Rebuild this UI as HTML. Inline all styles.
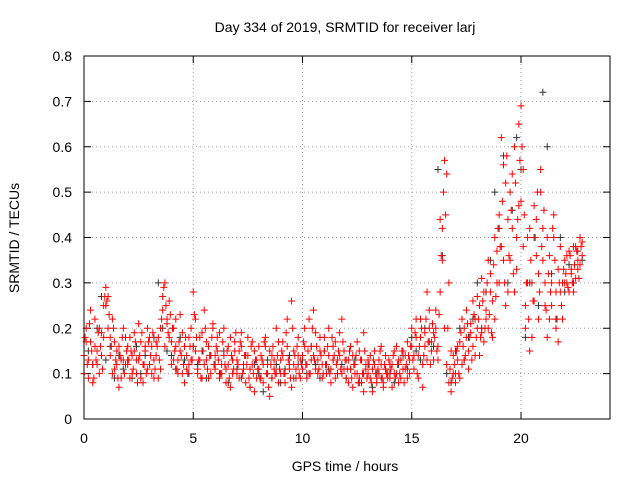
<!DOCTYPE html>
<html><head><meta charset="utf-8"><style>
body{margin:0;background:#fff}
svg{display:block;font-family:"Liberation Sans",sans-serif}
</style></head><body>
<svg id="chart" width="640" height="480" viewBox="0 0 640 480">
<text x="345" y="32" font-size="14" text-anchor="middle">Day 334 of 2019, SRMTID for receiver larj</text>
<text transform="translate(19,238) rotate(-90)" font-size="14" text-anchor="middle">SRMTID / TECUs</text>
<text x="345" y="471" font-size="14" text-anchor="middle">GPS time / hours</text>
<g id="grid"></g><g id="ticks"></g><g id="marks"></g>
<rect x="84" y="56" width="526" height="363" fill="none" stroke="#000" stroke-width="1"/>
</svg>
<script>
const xTicks=[0,5,10,15,20];
const yTicks=[0,0.1,0.2,0.3,0.4,0.5,0.6,0.7,0.8];
const yTickLabels=["0","0.1","0.2","0.3","0.4","0.5","0.6","0.7","0.8"];
const redStep=0.1, blackStep=0.2;
const redA=[.14,.2,.09,.17,.12,.22,.15,.1,.19,.25,.29,.27,.18,.22,.11,.15,.07,.13,.2,.12,.16,.09,.14,.19,.1,.13,.17,.08,.15,.2,.12,.16,.09,.14,.18,.11,.24,.3,.21,.26,.17,.13,.22,.1,.15,.19,.08,.14,.12,.2,.28,.15,.11,.18,.09,.24,.13,.16,.1,.21,.14,.18,.09,.12,.2,.11,.16,.07,.13,.17,.1,.15,.19,.12,.08,.14,.11,.17,.06,.13,.16,.09,.12,.18,.1,.05,.14,.11,.2,.08,.13,.17,.1,.22,.12,.07,.15,.11,.18,.09,.14,.2,.12,.1,.16,.24,.11,.13,.18,.09,.15,.12,.2,.08,.13,.17,.1,.14,.22,.11,.09,.13,.16,.07,.12,.1,.15,.08,.19,.11,.1,.14,.06,.12,.09,.13,.16,.08,.11,.1,.12,.07,.15,.1,.13,.09,.11,.14,.17,.1,.2,.14,.18,.09,.22,.12,.16,.28,.2,.15,.19,.24,.13,.28,.42,.57,.54,.3,.15,.1,.08,.13,.17,.12,.2,.24,.15,.19,.26,.14,.2,.25,.31,.17,.22,.35,.28,.18,.4,.3,.45,.62,.35,.52,.28,.5,.42,.6,.33,.47,.69,.55,.25,.4,.15,.3,.47,.36,.22,.5,.42,.3,.18,.36,.25,.4,.2,.33,.28,.22,.35,.3,.37,.32,.28,.38,.33,.4,.36];
const redB=[.1,.17,.13,.24,.08,.16,.12,.2,.14,.18,.25,.2,.14,.1,.17,.12,.16,.09,.13,.18,.12,.18,.1,.15,.13,.21,.09,.12,.16,.11,.18,.1,.13,.17,.09,.2,.27,.16,.22,.18,.12,.2,.16,.13,.23,.1,.16,.11,.18,.13,.16,.22,.1,.13,.19,.12,.17,.09,.14,.2,.11,.15,.19,.1,.14,.08,.12,.18,.1,.15,.13,.09,.16,.11,.14,.18,.07,.12,.15,.09,.11,.14,.08,.16,.12,.15,.09,.13,.1,.17,.1,.14,.08,.16,.11,.26,.12,.09,.14,.13,.11,.16,.09,.22,.13,.14,.19,.1,.15,.12,.18,.1,.14,.11,.16,.09,.13,.19,.1,.15,.13,.08,.11,.14,.1,.17,.09,.13,.06,.12,.13,.09,.11,.15,.08,.1,.12,.07,.14,.09,.09,.12,.1,.16,.08,.13,.15,.11,.09,.13,.16,.11,.22,.14,.18,.07,.19,.13,.24,.17,.13,.2,.16,.44,.35,.2,.12,.08,.06,.14,.1,.16,.09,.22,.13,.18,.11,.21,.16,.22,.27,.14,.19,.28,.24,.2,.32,.26,.22,.37,.3,.38,.56,.25,.44,.35,.54,.28,.4,.65,.48,.38,.2,.3,.42,.18,.26,.44,.32,.55,.35,.25,.4,.22,.3,.45,.28,.17,.38,.3,.3,.36,.28,.33,.38,.31,.35,.34,.39];
const redCStart=0.05;
const redC=[.18,.12,.21,.15,.09,.13,.19,.16,.11,.27,.26,.23,.16,.2,.13,.09,.14,.18,.1,.15,.13,.15,.11,.17,.08,.14,.19,.12,.1,.17,.14,.19,.11,.16,.13,.22,.29,.25,.19,.23,.2,.15,.11,.17,.14,.12,.18,.1,.16,.13,.23,.18,.13,.09,.15,.2,.11,.14,.18,.12,.16,.13,.1,.17,.12,.15,.09,.14,.11,.19,.12,.17,.1,.14,.12,.09,.16,.1,.13,.11,.09,.13,.17,.1,.07,.12,.16,.1,.14,.11,.15,.1,.19,.13,.09,.2,.14,.16,.1,.12,.17,.12,.15,.1,.2,.13,.16,.11,.14,.1,.12,.16,.1,.18,.14,.12,.15,.11,.17,.13,.11,.15,.09,.12,.14,.08,.13,.1,.15,.09,.12,.08,.13,.1,.11,.15,.09,.12,.1,.13,.11,.14,.09,.12,.1,.15,.08,.12,.14,.16,.13,.19,.1,.16,.2,.14,.22,.17,.12,.21,.18,.15,.23,.36,.5,.45,.2,.11,.09,.12,.15,.1,.19,.16,.14,.21,.18,.13,.23,.18,.22,.18,.26,.2,.3,.23,.19,.34,.27,.42,.38,.48,.3,.58,.36,.46,.32,.52,.44,.57,.6,.45,.3,.22,.35,.26,.4,.5,.28,.38,.46,.24,.32,.28,.42,.35,.22,.3,.25,.33,.32,.29,.36,.3,.34,.37,.31,.38];
const black=[.1,.15,.12,.2,.27,.13,.16,.09,.14,.11,.13,.09,.16,.1,.14,.12,.18,.3,.2,.15,.14,.11,.18,.13,.1,.16,.12,.15,.09,.14,.12,.1,.15,.08,.13,.11,.09,.14,.07,.12,.1,.06,.13,.09,.12,.08,.11,.14,.09,.12,.13,.1,.16,.12,.09,.15,.11,.13,.1,.12,.09,.11,.13,.08,.1,.12,.07,.1,.09,.11,.1,.08,.12,.14,.11,.18,.15,.13,.2,.17,.16,.55,.36,.1,.08,.15,.2,.13,.18,.22,.3,.2,.28,.35,.5,.42,.58,.3,.46,.62,.55,.18,.3,.4,.25,.72,.6,.32,.22,.4,.28,.34,.3,.37,.35];
const NS="http://www.w3.org/2000/svg";
const X=t=>84+t*(437/20), Y=v=>419-v*(363/0.8);
function mk(tag,at,parent){const e=document.createElementNS(NS,tag);for(const k in at)e.setAttribute(k,at[k]);parent.appendChild(e);return e;}
const grid=document.getElementById('grid'),ticks=document.getElementById('ticks'),marks=document.getElementById('marks');
yTicks.forEach((v,i)=>{
 if(i>0&&i<yTicks.length-1){const g=mk('line',{x1:84,x2:610,y1:Y(v),y2:Y(v),stroke:'#a0a0a0','stroke-dasharray':'1,3'},grid);
 
 }
 mk('line',{x1:84,x2:91,y1:Y(v),y2:Y(v),stroke:'#000'},ticks);
 mk('line',{x1:603,x2:610,y1:Y(v),y2:Y(v),stroke:'#000'},ticks);
 const t=mk('text',{x:72,y:Y(v)+5,'font-size':14,'text-anchor':'end'},ticks);t.textContent=yTickLabels[i];
 
 
});
xTicks.forEach(v=>{
 if(v>0){const g=mk('line',{x1:X(v),x2:X(v),y1:56,y2:419,stroke:'#a0a0a0','stroke-dasharray':'1,3'},grid);
 
 }
 mk('line',{x1:X(v),x2:X(v),y1:419,y2:412,stroke:'#000'},ticks);
 mk('line',{x1:X(v),x2:X(v),y1:56,y2:63,stroke:'#000'},ticks);
 const t=mk('text',{x:X(v),y:443,'font-size':14,'text-anchor':'middle'},ticks);t.textContent=String(v);
 
 
});
function plot(arr,start,step,color,name){
 let d='';
 arr.forEach((v,i)=>{const x=X(start+i*step),y=Y(v);d+=`M${x-3.5},${y}h7M${x},${y-3.5}v7`;});
 const p=mk('path',{d:d,stroke:color,'stroke-width':1,fill:'none'},marks);
 
 
}
plot(black,0,blackStep,'#333','black-series-points');
plot(redA,0,redStep,'#f00','red-series-points-a');
plot(redB,0,redStep,'#f00','red-series-points-b');
plot(redC,redCStart,redStep,'#f00','red-series-points-c');
</script>
</body></html>
